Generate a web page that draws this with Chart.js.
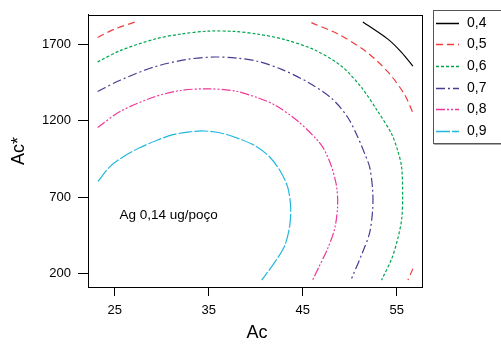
<!DOCTYPE html>
<html><head><meta charset="utf-8">
<script src="https://cdn.jsdelivr.net/npm/chart.js@4/dist/chart.umd.min.js"></script>
<style>html,body{margin:0;padding:0;background:#fff;}#wrap{width:501px;height:344px;position:relative}</style>
</head><body><div id="wrap"><canvas id="c" width="501" height="344"></canvas></div>
<script>
// Legend levels and axis ticks
const levels = ['0,4','0,5','0,6','0,7','0,8','0,9'];
const xTicks = [25, 35, 45, 55];
const yTicks = [200, 700, 1200, 1700];
const xTitle = 'Ac';
const yTitle = 'Ac*';
const note = 'Ag 0,14 ug/poço';

// Contour 0,4
const c04X = [51.41, 54.07, 55.50, 56.73];
const c04Y = [1845, 1733, 1648, 1556];
// Contour 0,5 (three pieces)
const c05aX = [23.19, 24.97, 27.27];
const c05aY = [1744, 1798, 1847];
const c05bX = [45.93, 48.76, 51.60, 54.07, 55.85, 56.73];
const c05bY = [1841, 1766, 1659, 1519, 1370, 1251];
const c05cX = [56.73, 56.20];
const c05cY = [232, 157];
// Contour 0,6
const c06X = [23.19, 25.64, 29.26, 32.02, 34.89, 37.77, 40.21, 43.09, 46.28, 49.15, 51.28, 52.98, 54.47, 55.11, 55.53, 55.64, 55.53, 55.11, 54.47, 53.40];
const c06Y = [1584, 1659, 1733, 1766, 1785, 1783, 1766, 1730, 1662, 1555, 1415, 1262, 1113, 1005, 896, 703, 553, 425, 296, 157];
// Contour 0,7
const c07X = [23.19, 25.64, 29.26, 32.77, 35.64, 38.09, 40.21, 42.77, 45.53, 48.09, 49.79, 50.85, 51.60, 52.13, 52.45, 52.45, 52.13, 51.38, 50.21];
const c07Y = [1391, 1466, 1552, 1601, 1616, 1608, 1588, 1535, 1452, 1345, 1222, 1095, 984, 896, 746, 618, 467, 339, 168];
// Contour 0,8
const c08X = [23.19, 25.64, 29.26, 32.02, 34.89, 37.77, 40.21, 42.02, 44.47, 46.60, 47.34, 48.09, 48.62, 48.72, 48.40, 47.66, 46.81, 46.06];
const c08Y = [1155, 1262, 1356, 1397, 1408, 1394, 1350, 1303, 1198, 1070, 1005, 896, 767, 639, 491, 363, 253, 157];
// Contour 0,9
const c09X = [23.22, 24.47, 25.88, 27.66, 29.44, 31.20, 32.98, 34.57, 36.52, 38.30, 40.07, 41.49, 42.55, 43.40, 43.72, 43.62, 43.09, 42.02, 40.64];
const c09Y = [802, 898, 962, 1023, 1070, 1108, 1127, 1132, 1116, 1080, 1031, 962, 877, 767, 639, 510, 382, 273, 157];

const styles = [
  {color:'#000000', dash:[]},
  {color:'#f03c3c', dash:[7,4]},
  {color:'#00a550', dash:[3,2]},
  {color:'#4a3a92', dash:[9,3,2,3]},
  {color:'#f0369a', dash:[9,2,2,2,2,2]},
  {color:'#22b6de', dash:[14,2]}
];

function pts(xs, ys){ return xs.map((x,i)=>({x:x, y:ys[i]})); }
function ds(level, xs, ys){
  const s = styles[level];
  return {label: levels[level], data: pts(xs, ys), showLine:true, pointRadius:0,
    borderColor:s.color, borderDash:s.dash, borderWidth:1.2, tension:0.3, fill:false};
}

const datasets = [
  ds(0, c04X, c04Y),
  ds(1, c05aX, c05aY), ds(1, c05bX, c05bY), ds(1, c05cX, c05cY),
  ds(2, c06X, c06Y),
  ds(3, c07X, c07Y),
  ds(4, c08X, c08Y),
  ds(5, c09X, c09Y)
];

const FONT = '"Liberation Sans", Arial, sans-serif';

const deco = {
  id:'deco',
  afterDraw(chart){
    const ctx = chart.ctx, a = chart.chartArea;
    ctx.save();
    // frame
    ctx.strokeStyle = '#000'; ctx.lineWidth = 1; ctx.setLineDash([]);
    ctx.strokeRect(Math.round(a.left)+0.5, Math.round(a.top)+0.5, Math.round(a.right-a.left), Math.round(a.bottom-a.top));
    // axis titles
    ctx.fillStyle = '#000';
    ctx.font = '18px ' + FONT;
    ctx.textAlign = 'center'; ctx.textBaseline = 'middle';
    ctx.fillText(xTitle, (a.left + a.right)/2 + 2, 333);
    ctx.save();
    ctx.translate(19, (a.top + a.bottom)/2);
    ctx.rotate(-Math.PI/2);
    ctx.fillText(yTitle, 0, 0);
    ctx.restore();
    // note
    const xs = chart.scales.x, ys = chart.scales.y;
    ctx.font = '13.5px ' + FONT;
    ctx.textAlign = 'left'; ctx.textBaseline = 'alphabetic';
    ctx.fillText(note, xs.getPixelForValue(25.5), ys.getPixelForValue(555));
    // legend
    ctx.strokeStyle = '#555';
    ctx.strokeRect(433.5, 10.5, 80, 133);
    ctx.strokeStyle = '#aaa';
    ctx.beginPath(); ctx.moveTo(434, 144.5); ctx.lineTo(501, 144.5); ctx.stroke();
    levels.forEach((lab, i) => {
      const y = 22.7 + i*21.65;
      ctx.strokeStyle = styles[i].color; ctx.lineWidth = 1.5;
      ctx.setLineDash(styles[i].dash);
      ctx.beginPath(); ctx.moveTo(436, Math.round(y)+0.5); ctx.lineTo(459, Math.round(y)+0.5); ctx.stroke();
      ctx.setLineDash([]);
      ctx.fillStyle = '#000'; ctx.font = '14px ' + FONT;
      ctx.textAlign = 'left'; ctx.textBaseline = 'middle';
      ctx.fillText(lab, 467, y);
    });
    ctx.restore();
  }
};

new Chart(document.getElementById('c'), {
  type: 'scatter',
  data: {datasets},
  options: {
    responsive:false, animation:false,
    layout:{padding:{left:0, top:10, right:79, bottom:0}},
    plugins:{legend:{display:false}, tooltip:{enabled:false}},
    scales:{
      x:{type:'linear', min:22.16, max:57.7,
        afterBuildTicks(s){ s.ticks = xTicks.map(v=>({value:v})); },
        afterFit(s){ s.height = 57; },
        grid:{drawOnChartArea:false, drawTicks:true, tickLength:9, color:'#000'},
        border:{display:true, color:'#000'},
        ticks:{color:'#000', font:{size:13, family:FONT}, padding:7, maxRotation:0, callback:v=>String(v)}
      },
      y:{type:'linear', min:112, max:1892,
        afterBuildTicks(s){ s.ticks = yTicks.map(v=>({value:v})); },
        afterFit(s){ s.width = 88; },
        grid:{drawOnChartArea:false, drawTicks:true, tickLength:10, color:'#000'},
        border:{display:true, color:'#000'},
        ticks:{color:'#000', font:{size:13, family:FONT}, padding:7, callback:v=>String(v)}
      }
    }
  },
  plugins:[deco]
});
</script></body></html>
